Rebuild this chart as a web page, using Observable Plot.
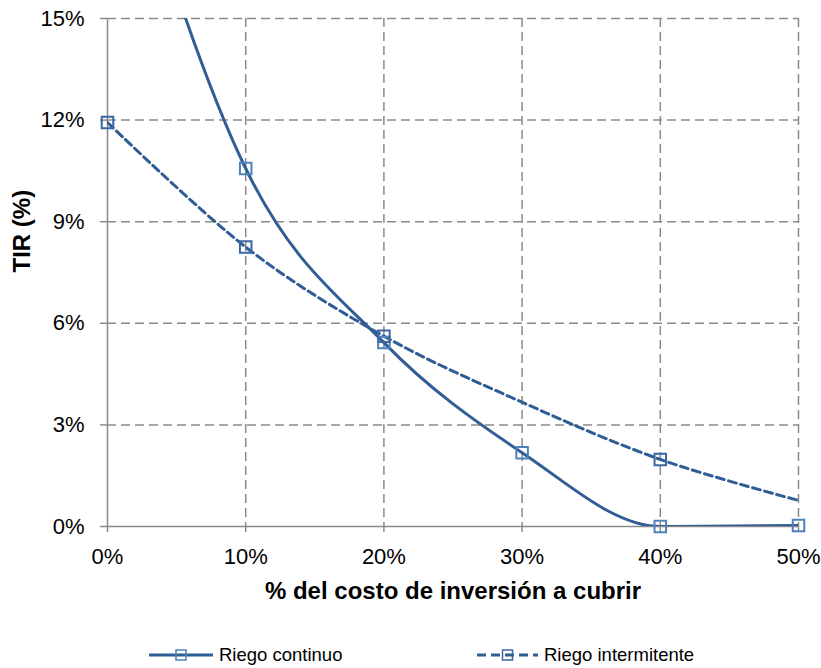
<!DOCTYPE html>
<html>
<head>
<meta charset="utf-8">
<script src="https://cdn.jsdelivr.net/npm/d3@7"></script>
<script src="https://cdn.jsdelivr.net/npm/@observablehq/plot@0.6"></script>
<style>
  html, body { margin: 0; padding: 0; background: white; }
  body { width: 821px; height: 668px; overflow: hidden; font-family: Arial, "Liberation Sans", sans-serif; }
  #legend { position: relative; width: 821px; height: 38px; }
  .item { position: absolute; top: 6px; height: 38px; display: flex; align-items: center; font-size: 18.5px; color: #000; }
  .item svg { display: block; margin-right: 6px; }
</style>
</head>
<body>
<div id="chart"></div>
<div id="legend"></div>
<script>
// ---- data ----
const xTicks = [0, 10, 20, 30, 40, 50];
const yTicks = [0, 3, 6, 9, 12, 15];
const seriesNames = ["Riego continuo", "Riego intermitente"];
const continuoX = [0, 10, 20, 30, 40, 50];
const continuoY = [22.2, 10.57, 5.43, 2.18, 0, 0.03];
const continuoMarker = [false, true, true, true, true, true];
const intermitenteX = [0, 10, 20, 30, 40, 50];
const intermitenteY = [11.93, 8.25, 5.62, 3.67, 1.98, 0.77];
const intermitenteMarker = [true, true, true, false, true, false];
const xTitle = "% del costo de inversión a cubrir";
const yTitle = "TIR (%)";

// ---- styles ----
const lineColor = "#2f5d95";
const markC = "#4f81bd";
const markI = "#3a67a3";
const gridColor = "#8a8a8a";
const font = "Arial, 'Liberation Sans', sans-serif";

const continuo = continuoX.map((x, i) => ({x, y: continuoY[i], m: continuoMarker[i]}));
const intermitente = intermitenteX.map((x, i) => ({x, y: intermitenteY[i], m: intermitenteMarker[i]}));

const chart = Plot.plot({
  width: 821,
  height: 630,
  marginTop: 18,
  marginRight: 23,
  marginBottom: 104,
  marginLeft: 107,
  x: {domain: [0, 50]},
  y: {domain: [0, 15]},
  style: {fontFamily: font, fontSize: "22px", background: "white", color: "black", overflow: "visible"},
  marks: [
    Plot.ruleY(yTicks.filter(d => d > 0), {stroke: gridColor, strokeWidth: 1.5, strokeDasharray: "9,5"}),
    Plot.ruleX(xTicks.filter(d => d > 0), {stroke: gridColor, strokeWidth: 1.5, strokeDasharray: "9,5"}),
    Plot.ruleX([0], {stroke: gridColor, strokeWidth: 1.5}),
    Plot.ruleY([0], {stroke: gridColor, strokeWidth: 1.5}),
    Plot.axisY(yTicks, {tickSize: 7, tickPadding: 16, tickFormat: d => d + "%", stroke: gridColor, strokeWidth: 1.5, label: null}),
    Plot.axisX(xTicks, {tickSize: 6, tickPadding: 16, tickFormat: d => d + "%", stroke: gridColor, strokeWidth: 1.5, label: null}),
    Plot.line(continuo, {x: "x", y: "y", curve: "monotone-x", stroke: lineColor, strokeWidth: 3, clip: true}),
    Plot.line(intermitente, {x: "x", y: "y", curve: "cardinal", stroke: lineColor, strokeWidth: 3, strokeDasharray: "8,4.5", clip: true}),
    Plot.dot(continuo.filter(d => d.m), {x: "x", y: "y", symbol: "square", r: 6.5, stroke: markC, strokeWidth: 2, fill: "none"}),
    Plot.dot(intermitente.filter(d => d.m), {x: "x", y: "y", symbol: "square", r: 6.5, stroke: markI, strokeWidth: 2, fill: "none"}),
    Plot.text([yTitle], {text: d => d, frameAnchor: "left", dx: -85, rotate: -90, fontWeight: "bold", fontSize: 24}),
    Plot.text([xTitle], {text: d => d, frameAnchor: "bottom", dy: 72, fontWeight: "bold", fontSize: 24})
  ]
});
document.getElementById("chart").appendChild(chart);

// ---- legend ----
const legend = document.getElementById("legend");
const legendItems = [
  {name: seriesNames[0], left: 149, w: 64, dash: null, mark: markC},
  {name: seriesNames[1], left: 477, w: 61, dash: "9,5", mark: markI}
];
for (const it of legendItems) {
  const div = document.createElement("div");
  div.className = "item";
  div.style.left = it.left + "px";
  const svg = d3.create("svg").attr("width", it.w).attr("height", 20);
  svg.append("line").attr("x1", 0).attr("x2", it.w).attr("y1", 10).attr("y2", 10)
    .attr("stroke", lineColor).attr("stroke-width", 3).attr("stroke-dasharray", it.dash);
  svg.append("rect").attr("x", it.w / 2 - 5).attr("y", 5).attr("width", 10).attr("height", 10)
    .attr("fill", "none").attr("stroke", it.mark).attr("stroke-width", 1.5);
  div.appendChild(svg.node());
  const span = document.createElement("span");
  span.textContent = it.name;
  div.appendChild(span);
  legend.appendChild(div);
}
</script>
</body>
</html>
